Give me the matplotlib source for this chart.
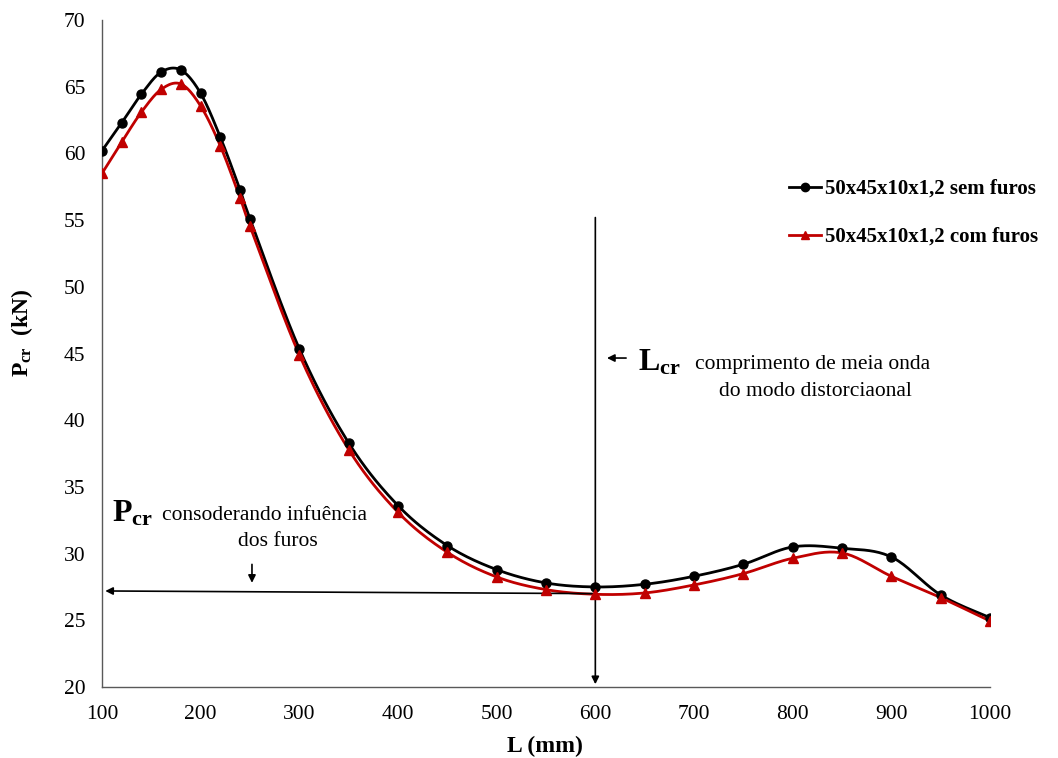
import numpy as np
import matplotlib
matplotlib.use("Agg")
import matplotlib.pyplot as plt

plt.rcParams['font.family'] = ['Liberation Serif', 'DejaVu Serif']
plt.rcParams['mathtext.fontset'] = 'custom'
plt.rcParams['mathtext.rm'] = 'Liberation Serif'
plt.rcParams['mathtext.bf'] = 'Liberation Serif:bold'

# data
L = [100, 120, 140, 160, 180, 200, 220, 240, 250, 300, 350, 400,
     450, 500, 550, 600, 650, 700, 750, 800, 850, 900, 950, 1000]
sem_furos = [60.2, 62.3, 64.45, 66.1, 66.25, 64.5, 61.2, 57.25, 55.1, 45.35, 38.3, 33.6,
             30.6, 28.8, 27.8, 27.5, 27.7, 28.3, 29.2, 30.5, 30.4, 29.75, 26.9, 25.2]
com_furos = [58.5, 60.85, 63.1, 64.8, 65.2, 63.55, 60.55, 56.65, 54.55, 44.9, 37.8, 33.1,
             30.1, 28.25, 27.3, 26.95, 27.05, 27.65, 28.5, 29.65, 30.05, 28.3, 26.7, 24.95]
labels = ['50x45x10x1,2 sem furos', '50x45x10x1,2 com furos']
xticks = [100, 200, 300, 400, 500, 600, 700, 800, 900, 1000]


def smooth(x, y, n=20):
    # Excel-like smoothed line (Catmull-Rom through the points)
    x = np.asarray(x, float)
    y = np.asarray(y, float)
    px = np.concatenate([[x[0]], x, [x[-1]]])
    py = np.concatenate([[y[0]], y, [y[-1]]])
    xs, ys = [], []
    t = np.linspace(0, 1, n, endpoint=False)
    for i in range(1, len(px) - 2):
        p0, p1, p2, p3 = (np.array([px[k], py[k]]) for k in (i - 1, i, i + 1, i + 2))
        b1 = p1 + (p2 - p0) / 6
        b2 = p2 - (p3 - p1) / 6
        pts = (np.outer((1 - t) ** 3, p1) + np.outer(3 * (1 - t) ** 2 * t, b1)
               + np.outer(3 * (1 - t) * t ** 2, b2) + np.outer(t ** 3, p2))
        xs.extend(pts[:, 0])
        ys.extend(pts[:, 1])
    xs.append(x[-1])
    ys.append(y[-1])
    return xs, ys


fig = plt.figure(figsize=(10.58, 7.58), dpi=100)
ax = fig.add_axes([102 / 1058, 71 / 758, 888 / 1058, 667 / 758])

series = [(sem_furos, 'black', 'o'), (com_furos, '#C00000', '^')]
for (vals, col, mk), lab in zip(series, labels):
    sx, sy = smooth(L, vals)
    ax.plot(sx, sy, color=col, lw=2, zorder=3)
    ax.plot(L, vals, ls='none', marker=mk, color=col, ms=6.5, zorder=4)
    ax.plot([], [], color=col, lw=2, marker=mk, ms=6, label=lab)

ax.set_xlim(100, 1000)
ax.set_ylim(20, 70)
ax.set_xticks(xticks)
ax.set_yticks(range(20, 71, 5))
ax.tick_params(axis='y', length=0, labelsize=15.5, pad=12)
ax.tick_params(axis='x', length=0, labelsize=15.5, pad=13)
for s in ['top', 'right']:
    ax.spines[s].set_visible(False)
for s in ['left', 'bottom']:
    ax.spines[s].set_color('#595959')
    ax.spines[s].set_linewidth(1)

fig.text(545 / 1058, 1 - 746 / 758, 'L (mm)', fontsize=17, fontweight='bold',
         ha='center', va='center')
fig.text(22 / 1058, 1 - 333 / 758, r'$\mathbf{P_{cr}}$  (kN)', fontsize=17, fontweight='bold',
         rotation=90, ha='center', va='center')

fig.legend(loc='center left', bbox_to_anchor=(789 / 1058, 1 - 213 / 758), frameon=False,
           prop={'weight': 'bold', 'size': 15}, handlelength=1.55, handletextpad=0.2,
           labelspacing=1.35, borderpad=0, borderaxespad=0)

# annotations
arw = dict(arrowstyle='-|>', color='black', lw=1.2, mutation_scale=11)
ax.annotate('', xy=(600, 20), xytext=(600, 55.4), arrowprops=arw, annotation_clip=False)
ax.annotate('', xy=(100.5, 27.2), xytext=(600, 27.0), arrowprops=arw)
ax.annotate('', xy=(252, 27.6), xytext=(252, 29.4), arrowprops=arw)
ax.annotate('', xy=(609, 44.66), xytext=(634, 44.66), arrowprops=arw)

ax.text(110, 32.4, r'$\mathbf{P_{cr}}$', fontsize=23, ha='left', va='baseline')
ax.text(161, 32.5, 'consoderando infuência', fontsize=15.5, ha='left', va='baseline')
ax.text(278, 30.6, 'dos furos', fontsize=15.5, ha='center', va='baseline')

ax.text(643, 43.7, r'$\mathbf{L_{cr}}$', fontsize=23, ha='left', va='baseline')
ax.text(701, 43.85, 'comprimento de meia onda', fontsize=15.5, ha='left', va='baseline')
ax.text(823, 41.85, 'do modo distorciaonal', fontsize=15.5, ha='center', va='baseline')

fig.savefig('out.png', dpi=100)
